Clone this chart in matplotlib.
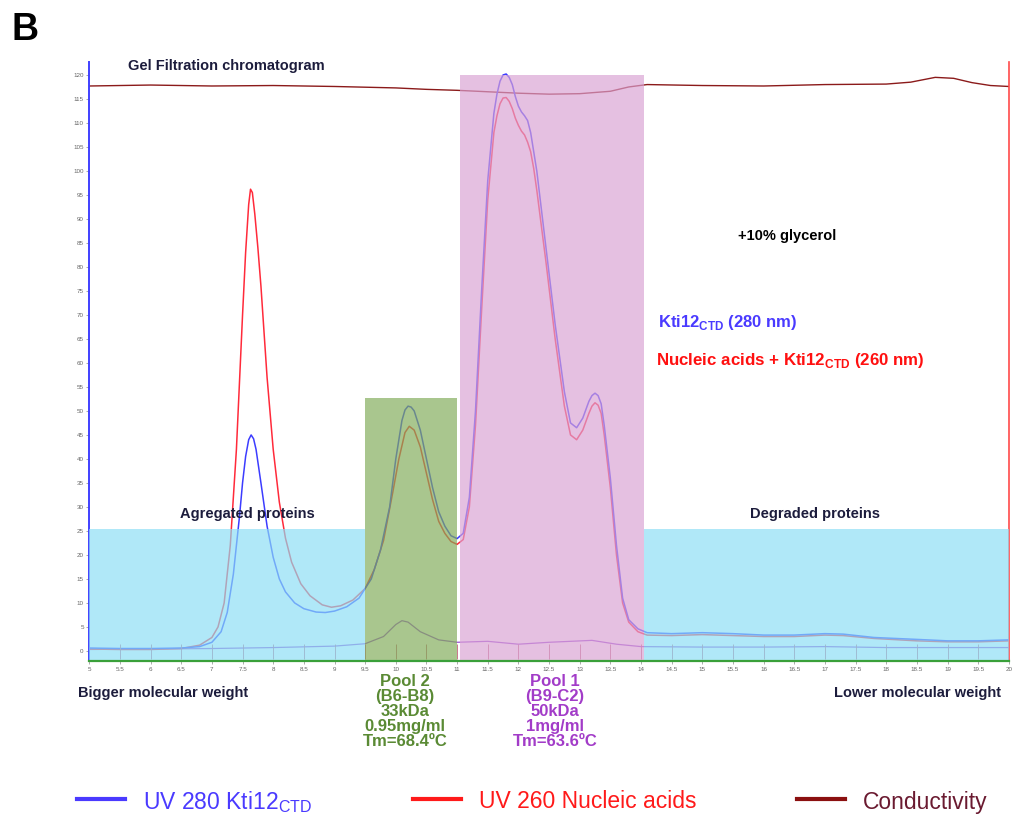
import matplotlib
matplotlib.use("Agg")
import matplotlib.pyplot as plt

plt.rcParams["font.family"] = ["Liberation Sans", "DejaVu Sans"]
plt.rcParams["mathtext.fontset"] = "custom"
plt.rcParams["mathtext.rm"] = "Liberation Sans"
plt.rcParams["mathtext.bf"] = "Liberation Sans:bold"

# elution volume (ml) and absorbance (mAU)
uv280_x = [5.0, 5.5, 6.0, 6.5, 6.8, 7.0, 7.15, 7.25, 7.35, 7.45, 7.5, 7.55, 7.6, 7.64, 7.68,
           7.72, 7.8, 7.9, 8.0, 8.1, 8.2, 8.35, 8.5, 8.7, 8.85, 9.0, 9.2, 9.4, 9.6, 9.75, 9.9,
           10.0, 10.1, 10.15, 10.2, 10.25, 10.3, 10.4, 10.5, 10.6, 10.7, 10.8, 10.9, 11.0, 11.1,
           11.2, 11.3, 11.4, 11.5, 11.6, 11.65, 11.7, 11.75, 11.8, 11.85, 11.9, 11.95, 12.0,
           12.05, 12.1, 12.15, 12.2, 12.25, 12.3, 12.45, 12.6, 12.75, 12.85, 12.95, 13.05,
           13.15, 13.2, 13.25, 13.3, 13.35, 13.4, 13.5, 13.6, 13.7, 13.8, 13.95, 14.1, 14.5,
           15.0, 15.5, 16.0, 16.5, 17.0, 17.3, 17.8, 18.5, 19.0, 19.5, 20.0]
uv280_y = [0.6, 0.5, 0.5, 0.6, 0.9, 1.8, 4.0, 8.0, 16.0, 28.0, 35.0, 40.5, 44.0, 45.0, 44.2,
           42.0, 35.0, 26.0, 19.5, 15.0, 12.3, 10.0, 8.8, 8.1, 8.0, 8.3, 9.2, 11.0, 15.0, 21.0, 30.0,
           40.0, 48.0, 50.2, 51.0, 50.8, 50.0, 46.0, 40.0, 34.0, 29.0, 26.0, 24.0, 23.4, 24.5,
           32.0, 50.0, 75.0, 98.0, 112.0, 116.0, 118.7, 120.0, 120.2, 119.5, 118.0, 115.5, 113.5,
           112.3, 111.5, 110.5, 108.0, 104.0, 100.0, 84.0, 68.0, 54.0, 47.5, 46.5, 48.5,
           52.0, 53.2, 53.7, 53.2, 51.5, 47.0, 36.0, 22.0, 11.0, 6.5, 4.6, 3.8, 3.6,
           3.8, 3.6, 3.3, 3.3, 3.6, 3.5, 2.8, 2.4, 2.1, 2.1, 2.3]

uv260_x = [5.0, 5.5, 6.0, 6.5, 6.8, 7.0, 7.1, 7.2, 7.3, 7.4, 7.5, 7.55, 7.6, 7.63, 7.66, 7.7,
           7.75, 7.8, 7.9, 8.0, 8.1, 8.2, 8.3, 8.45, 8.6, 8.8, 8.95, 9.1, 9.3, 9.5, 9.65, 9.8,
           9.95, 10.05, 10.15, 10.22, 10.3, 10.4, 10.5, 10.6, 10.7, 10.8, 10.9, 11.0, 11.1, 11.2,
           11.3, 11.4, 11.5, 11.6, 11.65, 11.7, 11.75, 11.8, 11.85, 11.9, 11.95, 12.0, 12.05,
           12.1, 12.15, 12.2, 12.25, 12.3, 12.45, 12.6, 12.75, 12.85, 12.95, 13.05, 13.15, 13.2,
           13.25, 13.3, 13.35, 13.4, 13.5, 13.6, 13.7, 13.8, 13.95, 14.1, 14.5,
           15.0, 15.5, 16.0, 16.5, 17.0, 17.3, 17.8, 18.5, 19.0, 19.5, 20.0]
uv260_y = [0.4, 0.3, 0.3, 0.5, 1.2, 2.8, 5.0, 10.0, 22.0, 42.0, 70.0, 83.0, 93.0, 96.2, 95.5, 91.0,
           84.0, 76.0, 57.0, 42.0, 31.0, 23.5, 18.5, 14.0, 11.5, 9.6, 9.1, 9.4, 10.6, 13.0, 17.0, 23.0,
           33.0, 40.0, 45.5, 46.8, 46.0, 42.5, 37.0, 31.5, 27.0, 24.5, 22.8, 22.2, 23.2, 30.0,
           47.0, 71.0, 94.0, 108.0, 111.5, 114.0, 115.2, 115.3, 114.5, 113.0, 111.0, 109.5, 108.3,
           107.5, 106.0, 104.0, 100.5, 96.0, 81.0, 65.0, 51.0, 45.0, 44.0, 46.0, 49.5, 51.0,
           51.7, 51.2, 49.5, 45.0, 34.0, 20.0, 10.0, 6.0, 4.0, 3.3, 3.2,
           3.4, 3.2, 3.0, 3.0, 3.3, 3.2, 2.6, 2.1, 1.9, 1.9, 2.1]

cond_x = [5.0, 6.0, 7.0, 8.0, 9.0, 10.0, 10.5, 11.0, 11.5, 12.0, 12.5, 13.0, 13.5, 13.8, 14.1,
          15.0, 16.0, 17.0, 18.0, 18.4, 18.8, 19.1, 19.4, 19.7, 20.0]
cond_y = [117.7, 117.9, 117.7, 117.8, 117.6, 117.3, 117.0, 116.8, 116.5, 116.2, 116.0, 116.1,
          116.6, 117.5, 118.0, 117.8, 117.7, 118.0, 118.1, 118.5, 119.5, 119.3, 118.4, 117.8, 117.6]

trace_x = [5.0, 6.0, 7.0, 8.0, 9.0, 9.5, 9.8, 10.0, 10.1, 10.2, 10.4, 10.7, 11.0, 11.5, 12.0,
           12.5, 13.2, 13.6, 14.0, 15.0, 16.0, 17.0, 18.0, 19.0, 20.0]
trace_y = [0.3, 0.4, 0.5, 0.7, 1.0, 1.5, 3.0, 5.5, 6.3, 6.0, 4.0, 2.3, 1.8, 2.0, 1.4,
           1.8, 2.2, 1.4, 0.9, 0.8, 0.8, 0.9, 0.7, 0.7, 0.7]

fractions = [5.0 + 0.5 * i for i in range(31)]

# shaded zones: (x start, x end, top)
zone_agg = (5.0, 9.5, 25.5)
zone_deg = (14.05, 20.0, 25.5)
zone_pool2 = (9.5, 11.0, 52.7)
zone_pool1 = (11.04, 14.05, 120.0)

y_ticks = list(range(0, 121, 5))
x_ticks = [5.0 + 0.5 * i for i in range(31)]


def fmt(v):
    return str(int(v)) if float(v).is_integer() else str(v)


def px(x, y):
    return x / 1014, 1 - y / 816


def main():
    fig = plt.figure(figsize=(10.14, 8.16), dpi=100)
    ax = fig.add_axes([89.3 / 1014, 155 / 816, 919.5 / 1014, 599 / 816])
    ymin, ymax = -2.1, 122.7

    ax.plot(cond_x, cond_y, color="#8b1a1a", lw=1.0, zorder=2)
    ax.plot(trace_x, trace_y, color="#9b4fd6", lw=0.9, zorder=2)
    ax.plot(uv260_x, uv260_y, color="#ff2a3a", lw=1.1, zorder=2)
    ax.plot(uv280_x, uv280_y, color="#3c3cff", lw=1.1, zorder=2)
    ax.vlines(fractions, -1.7, 1.4, color="#c0607a", lw=0.6, zorder=2)

    for (x0, x1, top), col in [(zone_agg, "#8bdef5"), (zone_deg, "#8bdef5"),
                               (zone_pool2, "#80ac58"), (zone_pool1, "#daa2d4")]:
        ax.fill_between([x0, x1], ymin, top, color=col, alpha=0.68, lw=0, zorder=3)

    ax.set_xlim(5, 20)
    ax.set_ylim(ymin, ymax)
    ax.spines["top"].set_visible(False)
    ax.spines["left"].set_color("#4040ff")
    ax.spines["left"].set_linewidth(1.4)
    ax.spines["right"].set_color("#ff4a4a")
    ax.spines["right"].set_linewidth(1.2)
    ax.spines["bottom"].set_color("#3aa03a")
    ax.spines["bottom"].set_linewidth(1.6)
    ax.spines["bottom"].set_zorder(5)

    ax.set_yticks(y_ticks)
    ax.set_yticklabels([fmt(v) for v in y_ticks])
    ax.set_xticks(x_ticks)
    ax.set_xticklabels([fmt(v) for v in x_ticks])
    ax.tick_params(labelsize=4.5, labelcolor="#666666", length=2, width=0.5,
                   color="#888888", pad=2)

    bold_dark = dict(fontweight="bold", color="#1c1c3c", fontsize=10.5)
    fig.text(*px(12, 12), "B", fontsize=27, fontweight="bold", va="top", ha="left")
    fig.text(*px(128, 66), "Gel Filtration chromatogram", va="center", ha="left", **bold_dark)
    fig.text(*px(738, 236), "+10% glycerol", va="center", ha="left", fontsize=10.5,
             fontweight="bold", color="black")
    fig.text(*px(247, 514), "Agregated proteins", va="center", ha="center", **bold_dark)
    fig.text(*px(815, 514), "Degraded proteins", va="center", ha="center", **bold_dark)
    fig.text(*px(78, 693), "Bigger molecular weight", va="center", ha="left", **bold_dark)
    fig.text(*px(1001, 693), "Lower molecular weight", va="center", ha="right", **bold_dark)

    fig.text(*px(658, 323), r"Kti12$_{\mathbf{CTD}}$ (280 nm)", va="center", ha="left",
             fontsize=12, fontweight="bold", color="#4a3aff")
    fig.text(*px(656, 360), r"Nucleic acids + Kti12$_{\mathbf{CTD}}$ (260 nm)", va="center",
             ha="left", fontsize=12.2, fontweight="bold", color="#ff1010")

    pool2 = ["Pool 2", "(B6-B8)", "33kDa", "0.95mg/ml", "Tm=68.4ºC"]
    pool1 = ["Pool 1", "(B9-C2)", "50kDa", "1mg/ml", "Tm=63.6ºC"]
    for i, (a, b) in enumerate(zip(pool2, pool1)):
        y = 681 + i * 15.2
        fig.text(*px(405, y), a, ha="center", va="center", fontsize=12,
                 fontweight="bold", color="#5a8a34")
        fig.text(*px(555, y), b, ha="center", va="center", fontsize=12,
                 fontweight="bold", color="#a23cc8")

    legend = [(77, "#4a3aff", r"UV 280 Kti12$_{\mathregular{CTD}}$", "#4a3aff"),
              (413, "#ff1a1a", "UV 260 Nucleic acids", "#ff1a1a"),
              (797, "#8b1010", "Conductivity", "#6a1a30")]
    for x0, lc, label, tc in legend:
        fig.add_artist(plt.Line2D([x0 / 1014, (x0 + 48) / 1014], [1 - 799 / 816] * 2,
                                  color=lc, lw=3, transform=fig.transFigure))
        fig.text(*px(x0 + 66, 802), label, ha="left", va="center", fontsize=16.5, color=tc)

    fig.savefig("out.png", dpi=100)
    plt.close(fig)


if __name__ == "__main__":
    main()
